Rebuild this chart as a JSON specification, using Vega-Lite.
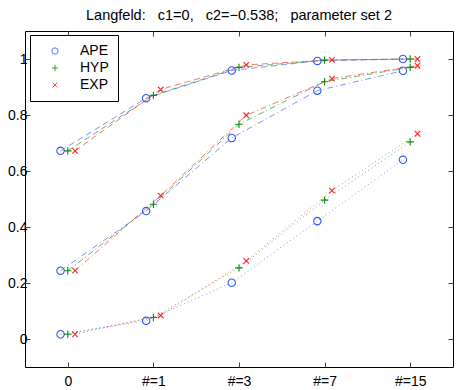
{
  "$schema": "https://vega.github.io/schema/vega-lite/v6.json",
  "autosize": "none",
  "width": 428,
  "height": 336,
  "padding": {"left": 25, "top": 31, "right": 5, "bottom": 23},
  "title": {"text": "Langfeld:\u00a0\u00a0 c1=0,\u00a0\u00a0 c2=−0.538;\u00a0\u00a0 parameter set 2", "font": "Liberation Sans", "fontSize": 14.5, "fontWeight": "normal", "color": "black", "offset": 7},
  "config": {
    "view": {"stroke": "black", "strokeWidth": 1},
    "axis": {"labelFont": "Liberation Sans", "labelFontSize": 14, "labelColor": "black", "tickColor": "#444", "domain": false, "grid": false, "title": null, "tickSize": -5}
  },
  "data": {"values": [
    {"g":"top","s":"APE","x":0.915,"y":0.672},
    {"g":"top","s":"APE","x":1.915,"y":0.860},
    {"g":"top","s":"APE","x":2.915,"y":0.959},
    {"g":"top","s":"APE","x":3.915,"y":0.993},
    {"g":"top","s":"APE","x":4.915,"y":1.0},
    {"g":"top","s":"HYP","x":1.0,"y":0.672},
    {"g":"top","s":"HYP","x":2.0,"y":0.870},
    {"g":"top","s":"HYP","x":3.0,"y":0.970},
    {"g":"top","s":"HYP","x":4.0,"y":0.996},
    {"g":"top","s":"HYP","x":5.0,"y":1.0},
    {"g":"top","s":"EXP","x":1.085,"y":0.672},
    {"g":"top","s":"EXP","x":2.085,"y":0.891},
    {"g":"top","s":"EXP","x":3.085,"y":0.979},
    {"g":"top","s":"EXP","x":4.085,"y":0.997},
    {"g":"top","s":"EXP","x":5.085,"y":1.0},
    {"g":"mid","s":"APE","x":0.915,"y":0.244},
    {"g":"mid","s":"APE","x":1.915,"y":0.457},
    {"g":"mid","s":"APE","x":2.915,"y":0.718},
    {"g":"mid","s":"APE","x":3.915,"y":0.887},
    {"g":"mid","s":"APE","x":4.915,"y":0.958},
    {"g":"mid","s":"HYP","x":1.0,"y":0.244},
    {"g":"mid","s":"HYP","x":2.0,"y":0.481},
    {"g":"mid","s":"HYP","x":3.0,"y":0.767},
    {"g":"mid","s":"HYP","x":4.0,"y":0.919},
    {"g":"mid","s":"HYP","x":5.0,"y":0.970},
    {"g":"mid","s":"EXP","x":1.085,"y":0.244},
    {"g":"mid","s":"EXP","x":2.085,"y":0.512},
    {"g":"mid","s":"EXP","x":3.085,"y":0.799},
    {"g":"mid","s":"EXP","x":4.085,"y":0.930},
    {"g":"mid","s":"EXP","x":5.085,"y":0.976},
    {"g":"bot","s":"APE","x":0.915,"y":0.017},
    {"g":"bot","s":"APE","x":1.915,"y":0.065},
    {"g":"bot","s":"APE","x":2.915,"y":0.201},
    {"g":"bot","s":"APE","x":3.915,"y":0.421},
    {"g":"bot","s":"APE","x":4.915,"y":0.640},
    {"g":"bot","s":"HYP","x":1.0,"y":0.017},
    {"g":"bot","s":"HYP","x":2.0,"y":0.077},
    {"g":"bot","s":"HYP","x":3.0,"y":0.254},
    {"g":"bot","s":"HYP","x":4.0,"y":0.496},
    {"g":"bot","s":"HYP","x":5.0,"y":0.704},
    {"g":"bot","s":"EXP","x":1.085,"y":0.017},
    {"g":"bot","s":"EXP","x":2.085,"y":0.084},
    {"g":"bot","s":"EXP","x":3.085,"y":0.279},
    {"g":"bot","s":"EXP","x":4.085,"y":0.530},
    {"g":"bot","s":"EXP","x":5.085,"y":0.733}
  ]},
  "resolve": {"axis": {"x": "independent", "y": "independent"}},
  "layer": [
    {
      "mark": {"type": "line", "strokeWidth": 0.8, "opacity": 0.8},
      "encoding": {
        "x": {"field": "x", "type": "quantitative", "scale": {"domain": [0.5, 5.5], "nice": false, "zero": false},
              "axis": {"orient": "bottom", "values": [1,2,3,4,5], "labelExpr": "datum.value == 1 ? '0' : datum.value == 2 ? '#=1' : datum.value == 3 ? '#=3' : datum.value == 4 ? '#=7' : '#=15'", "labelPadding": 12}},
        "y": {"field": "y", "type": "quantitative", "scale": {"domain": [-0.1, 1.1], "nice": false, "zero": false},
              "axis": {"orient": "left", "values": [0,0.2,0.4,0.6,0.8,1], "format": "~g", "labelPadding": 3}},
        "color": {"field": "s", "type": "nominal", "scale": {"domain": ["APE","HYP","EXP"], "range": ["#3355ff","#118811","#ff2020"]}},
        "strokeDash": {"field": "g", "type": "nominal", "scale": {"domain": ["top","mid","bot"], "range": [[6,4],[6,3,1,3],[1,3]]}, "legend": null},
        "detail": {"field": "g"}
      }
    },
    {
      "mark": {"type": "point", "filled": false, "strokeWidth": 1.1, "size": 55, "opacity": 1},
      "encoding": {
        "x": {"field": "x", "type": "quantitative", "axis": {"orient": "top", "values": [1,2,3,4,5], "labels": false}},
        "y": {"field": "y", "type": "quantitative", "axis": {"orient": "right", "values": [0,0.2,0.4,0.6,0.8,1], "labels": false}},
        "color": {"field": "s", "type": "nominal", "legend": {"orient": "none", "legendX": 5, "legendY": 4, "title": null, "strokeColor": "black", "fillColor": "white", "padding": 9, "labelFont": "Liberation Sans", "labelFontSize": 14, "labelColor": "black", "symbolSize": 40, "symbolStrokeWidth": 1, "symbolOffset": 9, "labelOffset": 18, "rowPadding": 3, "labelLimit": 100}},
        "shape": {"field": "s", "type": "nominal", "scale": {"domain": ["APE","HYP","EXP"], "range": ["circle", "M-1,0H1M0,-1V1", "M-0.75,-0.75L0.75,0.75M0.75,-0.75L-0.75,0.75"]}}
      }
    }
  ]
}
